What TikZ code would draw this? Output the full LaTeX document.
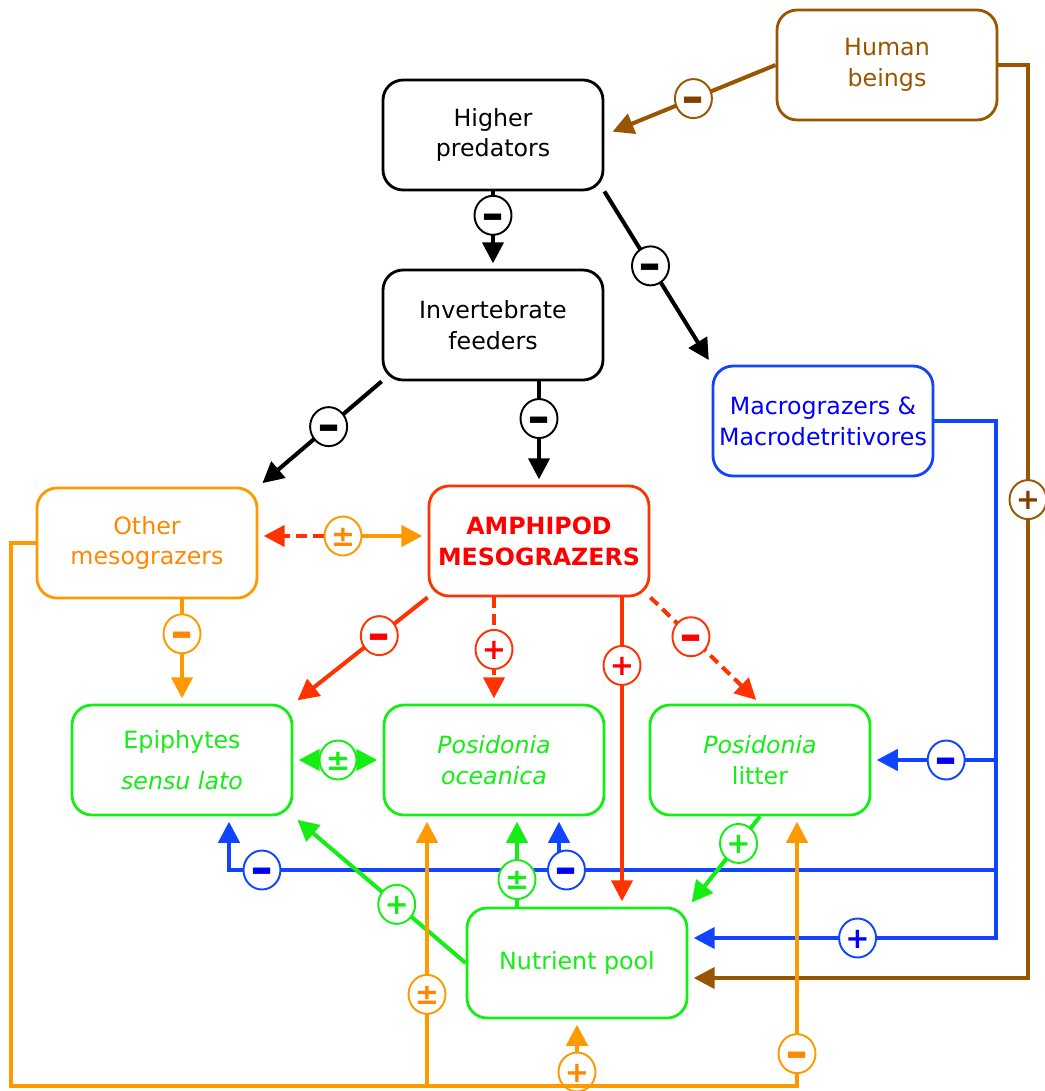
\documentclass[tikz,border=0pt]{standalone}
\usepackage{fontspec}
\setmainfont{DejaVu Sans}
\usepackage{tikz}
\usetikzlibrary{positioning,arrows.meta,shapes.geometric}

\definecolor{brownC}{RGB}{153,85,0}
\definecolor{brownT}{RGB}{128,64,0}
\definecolor{blueL}{RGB}{17,68,255}
\definecolor{blueT}{RGB}{0,0,255}
\definecolor{orangeL}{RGB}{255,153,0}
\definecolor{orangeT}{RGB}{255,136,0}
\definecolor{redL}{RGB}{255,51,0}
\definecolor{redT}{RGB}{255,0,0}
\definecolor{greenL}{RGB}{20,238,20}

\newcommand{\sminus}{\raisebox{-0.3em}{\scalebox{0.95}[1.9]{−}}}
\tikzset{>={Triangle[length=12pt,width=12pt]}}

\begin{document}
\begin{tikzpicture}[x=0.02cm, y=-0.02cm,
  box/.style={draw, rounded corners=0.4cm, line width=1.6pt, minimum width=4.4cm, minimum height=2.2cm, inner sep=2pt, align=center, font=\fontsize{13.5}{17.5}\selectfont},
  sign/.style={ellipse, draw, solid, fill=white, line width=1.1pt, minimum width=0.74cm, minimum height=0.78cm, inner sep=0pt, text height=11.6pt, text depth=0pt, text=#1, font=\fontsize{16.5}{16.5}\selectfont\bfseries},
  sign/.default=black,
  link/.style={line width=2.3pt, ->, shorten >=3pt},
  dashline/.style={dash pattern=on 6pt off 3.5pt}]
\useasboundingbox (0,0) rectangle (1044,1091);

\node[box, draw=brownC, text=brownC] (human) at (887,65) {Human\\beings};
\node[box] (higher) at (493,135) {Higher\\predators};
\node[box] (invert) at (493,325) {Invertebrate\\feeders};
\node[box, draw=blueL, text=blueT] (macro) at (823,421) {Macrograzers \&\\Macrodetritivores};
\node[box, draw=orangeL, text=orangeT] (other) at (147,543) {Other\\mesograzers};
\node[box, draw=redL, text=redT, font=\fontsize{13.5}{17.5}\selectfont\bfseries] (amph) at (539,541) {AMPHIPOD\\MESOGRAZERS};
\node[box, draw=greenL, text=greenL] (epi) at (182,760) {Epiphytes\\[6pt]\textit{sensu lato}};
\node[box, draw=greenL, text=greenL] (posi) at (494,760) {\textit{Posidonia}\\\textit{oceanica}};
\node[box, draw=greenL, text=greenL] (litter) at (760,760) {\textit{Posidonia}\\litter};
\node[box, draw=greenL, text=greenL] (nutr) at (577,963) {Nutrient pool};

\coordinate (xA) at (622,0);
\coordinate (xG) at (517,0);
\coordinate (bJ) at (996,938);
\coordinate (bH) at (996,870);
\coordinate (xE) at (229,870);
\coordinate (xP) at (559,870);
\coordinate (hR) at (1028,978);
\coordinate (oL) at (11,1086);
\coordinate (oR) at (797,1086);
\coordinate (oA) at (427,1086);

\draw[link] (higher.south) -- node[sign,pos=0.31]{\sminus} (invert.north);
\draw[link] (higher.south east) -- node[sign,pos=0.43]{\sminus} (macro.north west);
\draw[link] (invert.south west) -- node[sign,pos=0.43]{\sminus} (other.north east);
\draw[link] (amph.north |- invert.south) -- node[sign,pos=0.36]{\sminus} (amph.north);
\draw[link, brownC, shorten >=5pt] (human.west) -- node[sign=brownT,pos=0.48]{\sminus} (higher.east);

\node[sign=orangeT, draw=orangeL] (sOA) at (343,536) {±};
\draw[link, redL, dashline] (sOA) -- (sOA -| other.east);
\draw[link, orangeL] (sOA) -- (sOA -| amph.west);
\draw[link, orangeL] (epi.north |- other.south) -- node[sign=orangeT,pos=0.33]{\sminus} (epi.north);

\draw[link, redL] (amph.south west) -- node[sign=redT,pos=0.36]{\sminus} (epi.north east);
\draw[link, redL, dashline] (posi.north |- amph.south) -- node[sign=redT,pos=0.49]{+} (posi.north);
\draw[link, redL, dashline] (amph.south east) -- node[sign=redT,pos=0.37]{\sminus} (litter.north);

\draw[link, blueL] (xP) -- (xP |- posi.south);
\draw[link, blueL] (bH) -- node[sign=blueT,pos=0.56]{\sminus} node[sign=blueT,pos=0.957]{\sminus} (xE) -- (xE |- epi.south);
\draw[link, blueL] (macro.east) -| (bJ) -- node[sign=blueT,pos=0.45]{+} (bJ -| nutr.east);
\draw[link, blueL] (bJ |- litter.east) -- node[sign=blueT,pos=0.4]{\sminus} (litter.east);

\draw[link, redL] (xA |- amph.south) -- node[sign=redT,pos=0.22]{+} (xA |- nutr.north);

\draw[link, greenL, <->, shorten <=3pt] (epi.east) -- node[sign=greenL]{±} (posi.west);
\draw[link, greenL] (nutr.west) -- node[sign=greenL,pos=0.4]{+} (epi.south east);
\draw[link, greenL] (xG |- nutr.north) -- node[sign=greenL,pos=0.3]{±} (xG |- posi.south);
\draw[link, greenL] (litter.south) -- node[sign=greenL,pos=0.3]{+} (nutr.north east);

\draw[link, brownC] (human.east) -| node[sign=brownT,pos=0.738]{+} (hR) -- (hR -| nutr.east);

\draw[link, orangeL] (oA) -- node[sign=orangeT,pos=0.34]{±} (oA |- posi.south);
\draw[link, orangeL] (nutr.south |- oL) -- node[sign=orangeT,pos=0.21]{+} (nutr.south);
\draw[link, orangeL] (other.west) -| (oL) -- (oR) -- node[sign=orangeT,pos=0.12]{\sminus} (oR |- litter.south);
\end{tikzpicture}
\end{document}
